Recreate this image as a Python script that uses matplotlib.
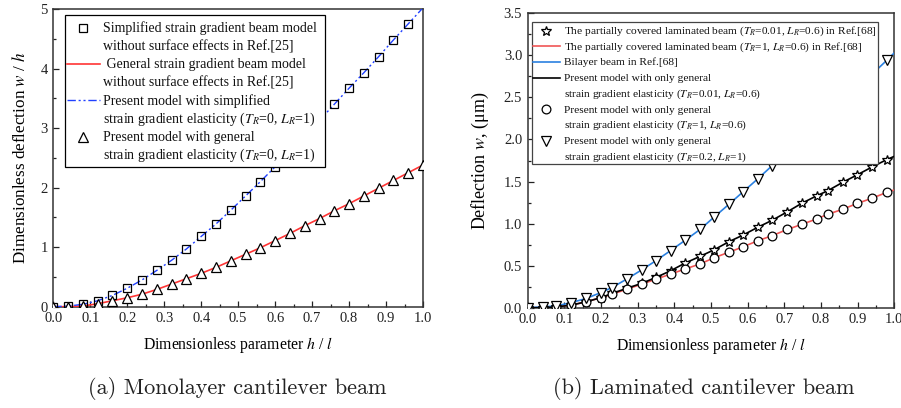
import numpy as np
import matplotlib
matplotlib.use('Agg')
import matplotlib.pyplot as plt
from matplotlib.ticker import MultipleLocator, FormatStrFormatter
from matplotlib.patches import Rectangle
from matplotlib.transforms import offset_copy

plt.rcParams['font.family'] = ['Liberation Serif', 'DejaVu Serif']
plt.rcParams['mathtext.fontset'] = 'stix'

#-----------------------------------------------------------
# (a) viga monocapa: deflexión adimensional w/h contra h/l
#-----------------------------------------------------------
hl_a = [0.00, 0.04, 0.08, 0.12, 0.16, 0.20, 0.24, 0.28, 0.32, 0.36, 0.40, 0.44, 0.48,
        0.52, 0.56, 0.60, 0.64, 0.68, 0.72, 0.76, 0.80, 0.84, 0.88, 0.92, 0.96, 1.00]
w_simplified = [0.00, 0.01, 0.04, 0.10, 0.19, 0.31, 0.45, 0.61, 0.78, 0.97, 1.18, 1.39, 1.62,
                1.86, 2.10, 2.35, 2.61, 2.87, 3.13, 3.40, 3.67, 3.93, 4.20, 4.48, 4.75, 5.02]
w_general = [0.00, 0.00, 0.01, 0.05, 0.10, 0.15, 0.21, 0.29, 0.38, 0.47, 0.56, 0.66, 0.77,
             0.88, 0.99, 1.11, 1.23, 1.36, 1.48, 1.61, 1.73, 1.86, 1.99, 2.12, 2.25, 2.38]

#-----------------------------------------------------------
# (b) viga laminada: deflexión w (um) contra h/l
#-----------------------------------------------------------
hl_b = [0.000, 0.041, 0.077, 0.118, 0.159, 0.200, 0.230, 0.270, 0.311, 0.350, 0.390, 0.429, 0.470,
        0.509, 0.549, 0.588, 0.627, 0.667, 0.708, 0.747, 0.788, 0.818, 0.859, 0.899, 0.938, 0.979]
w_tr001 = [0.00, 0.00, 0.01, 0.03, 0.07, 0.12, 0.17, 0.23, 0.29, 0.36, 0.44, 0.53, 0.61,
           0.69, 0.785, 0.865, 0.955, 1.04, 1.14, 1.24, 1.33, 1.39, 1.49, 1.58, 1.67, 1.76]
w_tr1 = [0.00, 0.00, 0.01, 0.03, 0.07, 0.12, 0.16, 0.22, 0.28, 0.34, 0.40, 0.46, 0.52,
         0.595, 0.66, 0.725, 0.795, 0.857, 0.93, 0.99, 1.055, 1.11, 1.17, 1.24, 1.30, 1.37]
w_tr02 = [0.00, 0.01, 0.02, 0.06, 0.11, 0.18, 0.24, 0.34, 0.45, 0.56, 0.68, 0.80, 0.93,
          1.08, 1.23, 1.38, 1.53, 1.69, 1.85, 2.01, 2.17, 2.29, 2.45, 2.61, 2.77, 2.94]
# valores de las curvas de referencia en h/l = 1
hl_end = 1.0
w_tr001_end = 1.80
w_tr1_end = 1.40
w_tr02_end = 3.03

AZUL = '#2040ff'
ROJO = '#ff3535'
AZUL_B = '#2a80e0'
ROJO_B = '#f05555'
DASHDOT2 = (0, (6, 2, 1.5, 2, 1.5, 2))

# estilos de cada serie (se usan en la gráfica y en la leyenda)
st_red = dict(color=ROJO, lw=1.2)
st_blue = dict(color=AZUL, lw=1.0, ls=DASHDOT2)
st_sq = dict(ls='none', marker='s', ms=5.5, mfc='none', mec='k', mew=0.9)
st_tri = dict(ls='none', marker='^', ms=7, mfc='white', mec='k', mew=0.9)
st_r = dict(color=ROJO_B, lw=1.2)
st_b = dict(color=AZUL_B, lw=1.2)
st_k = dict(color='k', lw=1.2)
st_star = dict(ls='none', marker='*', ms=7.5, mfc='white', mec='k', mew=0.9)
st_circ = dict(ls='none', marker='o', ms=6.3, mfc='white', mec='k', mew=0.9)
st_v = dict(ls='none', marker='v', ms=7, mfc='white', mec='k', mew=0.9)


def ejes(ax, ymax, ymaj, ymin):
    ax.set_xlim(0, 1.0)
    ax.set_ylim(0, ymax)
    ax.xaxis.set_major_locator(MultipleLocator(0.1))
    ax.xaxis.set_minor_locator(MultipleLocator(0.05))
    ax.yaxis.set_major_locator(MultipleLocator(ymaj))
    ax.yaxis.set_minor_locator(MultipleLocator(ymin))
    ax.tick_params(which='both', direction='in', width=0.9, colors='#222222', labelsize=10.5, pad=4)
    ax.tick_params(which='major', length=4)
    ax.tick_params(which='minor', length=2)
    for s in ax.spines.values():
        s.set_linewidth(1.1)
        s.set_color('#333333')
    ax.set_xlabel('Dimensionless parameter $h$ / $l$', fontsize=11.3, labelpad=7)


def leyenda(ax, entradas, caja, y0, paso, xh, xt, fs, ec):
    """
    Leyenda con renglones de altura fija; el símbolo va en el primer renglón
    de cada entrada. caja = (x0, y0, x1, y1) en coordenadas de ejes.
    """
    tr = ax.transAxes
    trt = offset_copy(tr, fig=ax.figure, x=0, y=-0.3 * fs, units='points')
    x0, yb, x1, yt = caja
    ax.add_patch(Rectangle((x0, yb), x1 - x0, yt - yb, transform=tr, fc='white',
                           ec=ec, lw=0.9, zorder=10, clip_on=False))
    k = 0
    for estilo, texto in entradas:
        for i, renglon in enumerate(texto.split('\n')):
            y = y0 - k * paso
            ax.text(xt, y, renglon, transform=trt, fontsize=fs, va='baseline',
                    ha='left', zorder=12, color='#111111')
            if i == 0:
                if estilo.get('ls') == 'none':
                    ax.plot([(xh[0] + xh[1]) / 2], [y], transform=tr, clip_on=False,
                            zorder=11, **estilo)
                else:
                    ax.plot(xh, [y, y], transform=tr, clip_on=False, zorder=11, **estilo)
            k += 1


fig = plt.figure(figsize=(9.01, 4.08), dpi=100)
ax1 = fig.add_axes([0.0592, 0.2483, 0.4103, 0.7297])
ax2 = fig.add_axes([0.5857, 0.2458, 0.4069, 0.7216])

# ---- panel (a)
x = np.array(hl_a)
ws = np.array(w_simplified)
wg = np.array(w_general)
ax1.plot(x, wg, zorder=3, **st_red)
ax1.plot(x, ws, zorder=3, **st_blue)
ax1.plot(x[:-1], ws[:-1], zorder=4, **st_sq)
ax1.plot(x, wg, zorder=4, **st_tri)
ejes(ax1, 5, 1, 0.5)
ax1.yaxis.set_major_formatter(FormatStrFormatter('%d'))
ax1.set_ylabel('Dimensionless deflection $w$ / $h$', fontsize=12.3, labelpad=8)
leyenda(ax1, [
    (st_sq, 'Simplified strain gradient beam model\nwithout surface effects in Ref.[25]'),
    (st_red, ' General strain gradient beam model\nwithout surface effects in Ref.[25]'),
    (st_blue, 'Present model with simplified\nstrain gradient elasticity ($T_R$=0, $L_R$=1)'),
    (st_tri, 'Present model with general\nstrain gradient elasticity ($T_R$=0, $L_R$=1)'),
], caja=(0.032, 0.469, 0.735, 0.980), y0=0.937, paso=0.0610,
    xh=(0.037, 0.125), xt=0.134, fs=10.0, ec='k')

# ---- panel (b)
xb = np.array(hl_b)
xl = np.append(xb, hl_end)
ax2.plot(xl, np.append(w_tr1, w_tr1_end), zorder=3, **st_r)
ax2.plot(xl, np.append(w_tr02, w_tr02_end), zorder=3, **st_b)
ax2.plot(xl, np.append(w_tr001, w_tr001_end), zorder=3, **st_k)
ax2.plot(xb, w_tr001, zorder=4, **st_star)
ax2.plot(xb, w_tr1, zorder=4, **st_circ)
ax2.plot(xb, w_tr02, zorder=4, **st_v)
ejes(ax2, 3.5, 0.5, 0.25)
ax2.yaxis.set_major_formatter(FormatStrFormatter('%.1f'))
ax2.set_ylabel('Deflection $w$, (μm)', fontsize=13, labelpad=9)
leyenda(ax2, [
    (st_star, 'The partially covered laminated beam ($T_R$=0.01, $L_R$=0.6) in Ref.[68]'),
    (st_r, 'The partially covered laminated beam ($T_R$=1, $L_R$=0.6) in Ref.[68]'),
    (st_b, 'Bilayer beam in Ref.[68]'),
    (st_k, 'Present model with only general\nstrain gradient elasticity ($T_R$=0.01, $L_R$=0.6)'),
    (st_circ, 'Present model with only general\nstrain gradient elasticity ($T_R$=1, $L_R$=0.6)'),
    (st_v, 'Present model with only general\nstrain gradient elasticity ($T_R$=0.2, $L_R$=1)'),
], caja=(0.012, 0.488, 0.955, 0.970), y0=0.941, paso=0.0533,
    xh=(0.014, 0.088), xt=0.099, fs=8.2, ec='#444444')

fig.text(0.263, 0.049, '(a) Monolayer cantilever beam', family='cmr10', fontsize=16,
         ha='center', va='center', color='#222222')
fig.text(0.781, 0.049, '(b) Laminated cantilever beam', family='cmr10', fontsize=16,
         ha='center', va='center', color='#222222')

fig.savefig('out.png', dpi=100)
